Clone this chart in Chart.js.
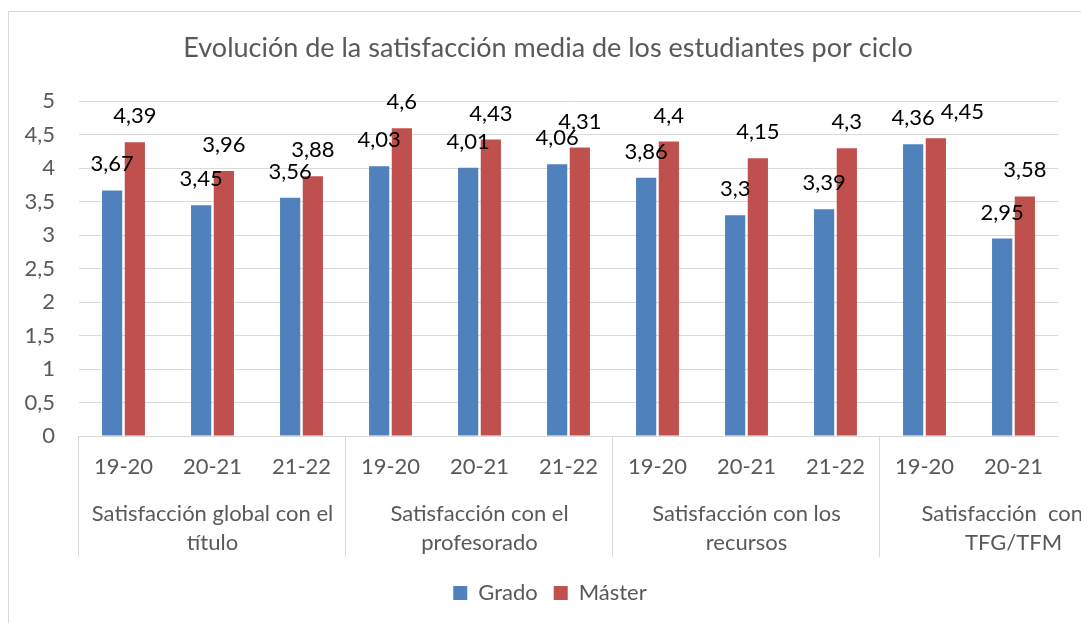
<!DOCTYPE html>
<html lang="es">
<head>
    <meta charset="UTF-8">
    <title>Evolución de la satisfacción media</title>
    <script src="https://cdn.jsdelivr.net/npm/chart.js"></script>
    <style>
        body {
            margin: 0;
            background: #fff;
            overflow: hidden;
        }
        .frame {
            position: absolute;
            left: 8px;
            top: 11px;
            width: 1080px;
            height: 620px;
            border: 1px solid #d9d9d9;
        }
    </style>
</head>
<body>
    <div class="frame">
        <canvas id="barChart"></canvas>
    </div>

    <script>
        const ciclos = ['19-20', '20-21', '21-22', '19-20', '20-21', '21-22', '19-20', '20-21', '21-22', '19-20', '20-21'];
        const grado = [3.67, 3.45, 3.56, 4.03, 4.01, 4.06, 3.86, 3.3, 3.39, 4.36, 2.95];
        const master = [4.39, 3.96, 3.88, 4.6, 4.43, 4.31, 4.4, 4.15, 4.3, 4.45, 3.58];
        // grupos del eje: primer índice, número de ciclos, texto en dos líneas
        const grupos = [
            { start: 0, span: 3, lines: ['Satisfacción global con el', 'título'] },
            { start: 3, span: 3, lines: ['Satisfacción con el', 'profesorado'] },
            { start: 6, span: 3, lines: ['Satisfacción con los', 'recursos'] },
            { start: 9, span: 2, lines: ['Satisfacción  con el', 'TFG/TFM'] }
        ];

        const FONT = 'Lato, "Open Sans", sans-serif';
        const GRIS = '#595959';

        // etiquetas de valor encima de cada barra (la segunda se aparta si choca)
        const valueLabels = {
            id: 'valueLabels',
            afterDatasetsDraw(chart) {
                const ctx = chart.ctx;
                ctx.save();
                ctx.font = '22px ' + FONT;
                ctx.fillStyle = '#000';
                ctx.textAlign = 'center';
                ctx.textBaseline = 'alphabetic';
                const n = chart.data.labels.length;
                for (let j = 0; j < n; j++) {
                    let prev = null;
                    chart.data.datasets.forEach((ds, i) => {
                        const bar = chart.getDatasetMeta(i).data[j];
                        const txt = String(ds.data[j]).replace('.', ',');
                        const w = ctx.measureText(txt).width;
                        let cx = bar.x;
                        const base = bar.y - 19;
                        if (prev && Math.abs(prev.base - base) < 16 && cx - w / 2 < prev.right + 6) {
                            cx = prev.right + 6 + w / 2;
                        }
                        ctx.fillText(txt, cx, base);
                        prev = { right: cx + w / 2, base: base };
                    });
                }
                ctx.restore();
            }
        };

        // segundo nivel del eje x: separadores y nombres de grupo
        const groupAxis = {
            id: 'groupAxis',
            afterDraw(chart) {
                const x = chart.scales.x;
                const ctx = chart.ctx;
                const w = (x.right - x.left) / ciclos.length;
                ctx.save();
                ctx.strokeStyle = '#d9d9d9';
                ctx.lineWidth = 1;
                grupos.forEach(g => {
                    const edge = Math.round(x.left + g.start * w) - 0.5;
                    ctx.beginPath();
                    ctx.moveTo(edge, x.top);
                    ctx.lineTo(edge, x.top + 121);
                    ctx.stroke();
                });
                ctx.font = '22px ' + FONT;
                ctx.fillStyle = GRIS;
                ctx.textAlign = 'center';
                ctx.textBaseline = 'middle';
                grupos.forEach(g => {
                    const cx = x.getPixelForValue(g.start + 1);
                    ctx.fillText(g.lines[0], cx, x.top + 78);
                    ctx.fillText(g.lines[1], cx, x.top + 107);
                });
                ctx.restore();
            }
        };

        // el título y la leyenda van algo a la derecha del centro del lienzo
        const nudge = {
            id: 'nudge',
            afterLayout(chart) {
                chart.titleBlock.left += 7;
                chart.titleBlock.right += 7;
                chart.legend.left += 9;
                chart.legend.right += 9;
            }
        };

        const ctx = document.getElementById('barChart').getContext('2d');
        new Chart(ctx, {
            type: 'bar',
            data: {
                labels: ciclos,
                datasets: [{
                    label: 'Grado',
                    data: grado,
                    backgroundColor: '#4f81bd'
                }, {
                    label: 'Máster',
                    data: master,
                    backgroundColor: '#c0504d'
                }]
            },
            options: {
                responsive: true,
                maintainAspectRatio: false,
                animation: false,
                categoryPercentage: 0.51,
                barPercentage: 0.89,
                layout: {
                    padding: { left: 15, right: 31, top: 0, bottom: 18 }
                },
                scales: {
                    x: {
                        grid: { display: false, drawTicks: false },
                        border: { display: false },
                        ticks: {
                            color: GRIS,
                            font: { family: FONT, size: 22 },
                            padding: 18,
                            maxRotation: 0,
                            autoSkip: false
                        },
                        afterFit(scale) { scale.height = 130; }
                    },
                    y: {
                        min: 0,
                        max: 5,
                        grid: { color: '#d9d9d9', drawTicks: false },
                        border: { display: false },
                        ticks: {
                            stepSize: 0.5,
                            color: GRIS,
                            font: { family: FONT, size: 22 },
                            padding: 24,
                            callback: v => String(v).replace('.', ',')
                        },
                        afterFit(scale) { scale.width = 55; }
                    }
                },
                plugins: {
                    title: {
                        display: true,
                        text: 'Evolución de la satisfacción media de los estudiantes por ciclo',
                        color: GRIS,
                        font: { family: FONT, size: 27, weight: 'normal' },
                        padding: { top: 20, bottom: 37 }
                    },
                    legend: {
                        position: 'bottom',
                        labels: {
                            color: GRIS,
                            font: { family: FONT, size: 22 },
                            boxWidth: 14,
                            boxHeight: 14,
                            padding: 16
                        }
                    },
                    tooltip: { enabled: false }
                }
            },
            plugins: [valueLabels, groupAxis, nudge]
        });
    </script>
</body>
</html>
